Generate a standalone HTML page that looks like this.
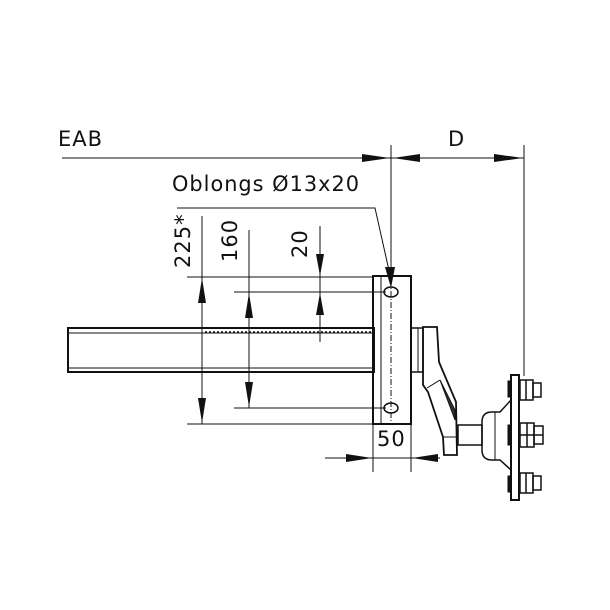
<!DOCTYPE html>
<html><head><style>body{margin:0;background:#fff}svg{display:block}text{font-family:"DejaVu Sans","Liberation Sans",sans-serif;fill:#111}</style></head>
<body>
<svg width="610" height="610" viewBox="0 0 610 610" xmlns="http://www.w3.org/2000/svg">
<g stroke="#111" fill="none" stroke-width="1">
<line x1="62" y1="158" x2="524" y2="158"/>
<line x1="391" y1="145" x2="391" y2="268"/>
<line x1="524" y1="145" x2="524" y2="376"/>
<polyline points="177,208 375,208 390,275"/>
<rect x="68" y="328" width="306" height="44" stroke-width="2"/>
<line x1="68" y1="333" x2="374" y2="333"/>
<line x1="68" y1="368" x2="374" y2="368"/>
<line x1="205" y1="332" x2="374" y2="332" stroke-dasharray="2,2" stroke-width="1.5"/>
<line x1="187" y1="277" x2="373" y2="277"/>
<line x1="187" y1="424" x2="373" y2="424"/>
<line x1="234" y1="292" x2="386" y2="292"/>
<line x1="234" y1="408" x2="386" y2="408"/>
<line x1="202" y1="216" x2="202" y2="424"/>
<line x1="249" y1="230" x2="249" y2="408"/>
<line x1="320" y1="226" x2="320" y2="342"/>
<rect x="373" y="276" width="38" height="148" stroke-width="2"/>
<line x1="381" y1="276" x2="381" y2="424"/>
<line x1="391" y1="280" x2="391" y2="422" stroke-dasharray="6,2,1,2"/>
<ellipse cx="391" cy="292" rx="7" ry="5" stroke-width="1.5"/>
<ellipse cx="391" cy="408" rx="7" ry="5" stroke-width="1.5"/>
<line x1="373" y1="424" x2="373" y2="472"/>
<line x1="411" y1="424" x2="411" y2="472"/>
<line x1="325" y1="458" x2="440" y2="458"/>
<rect x="411" y="328" width="12" height="44" stroke-width="1.5"/>
<line x1="418" y1="328" x2="418" y2="372"/>
<path d="M423,327 L437,327 L439,362 L456,402 L457,455 L444,455 L443,437 L428,392 L423,385 Z" stroke-width="1.8"/>
<line x1="427" y1="388" x2="440" y2="380"/>
<line x1="443" y1="437" x2="457" y2="437"/>
<path d="M440,380 L455,410 L455,420 Z" fill="#333"/>
<rect x="458" y="425" width="24" height="20" stroke-width="1.5"/>
<path d="M482,422 Q482,412 492,412 L500,412 L511,400 L511,470 L500,460 L492,460 Q482,460 482,450 Z" stroke-width="1.5"/>
<line x1="495" y1="412" x2="495" y2="460"/>
<rect x="511" y="375" width="8" height="125" stroke-width="2"/>
<rect x="508" y="381" width="3" height="16" fill="#111"/>
<rect x="508" y="476" width="3" height="16" fill="#111"/>
<rect x="508" y="425" width="3" height="20" fill="#111"/>
<g stroke-width="1.5">
<rect x="520" y="380" width="13" height="20"/><rect x="533" y="383" width="8" height="14"/><line x1="526" y1="380" x2="526" y2="400"/>
<rect x="520" y="473" width="13" height="20"/><rect x="533" y="476" width="8" height="14"/><line x1="526" y1="473" x2="526" y2="493"/>
<rect x="520" y="423" width="14" height="24"/><rect x="534" y="426" width="9" height="18"/><line x1="527" y1="423" x2="527" y2="447"/><line x1="520" y1="435" x2="543" y2="435"/>
</g>
</g>
<g fill="#111">
<polygon points="390,158 362,154 362,162"/>
<polygon points="393,158 420,154 420,162"/>
<polygon points="523,158 494,154 494,162"/>
<polygon points="391,288 385,267 395,267"/>
<polygon points="202,278 198,303 206,303"/>
<polygon points="202,423 198,398 206,398"/>
<polygon points="249,293 245,318 253,318"/>
<polygon points="249,407 245,382 253,382"/>
<polygon points="320,276 316,254 324,254"/>
<polygon points="320,293 316,315 324,315"/>
<polygon points="372,458 346,454 346,462"/>
<polygon points="412,458 438,454 438,462"/>
</g>
<g font-size="21" letter-spacing="1">
<text x="58" y="146">EAB</text>
<text x="448" y="146">D</text>
<text x="172" y="191" textLength="188" lengthAdjust="spacingAndGlyphs">Oblongs Ø13x20</text>
<text x="377" y="446">50</text>
<text transform="translate(190,268) rotate(-90)">225*</text>
<text transform="translate(237,262) rotate(-90)">160</text>
<text transform="translate(307,258) rotate(-90)">20</text>
</g>
</svg>
</body></html>
